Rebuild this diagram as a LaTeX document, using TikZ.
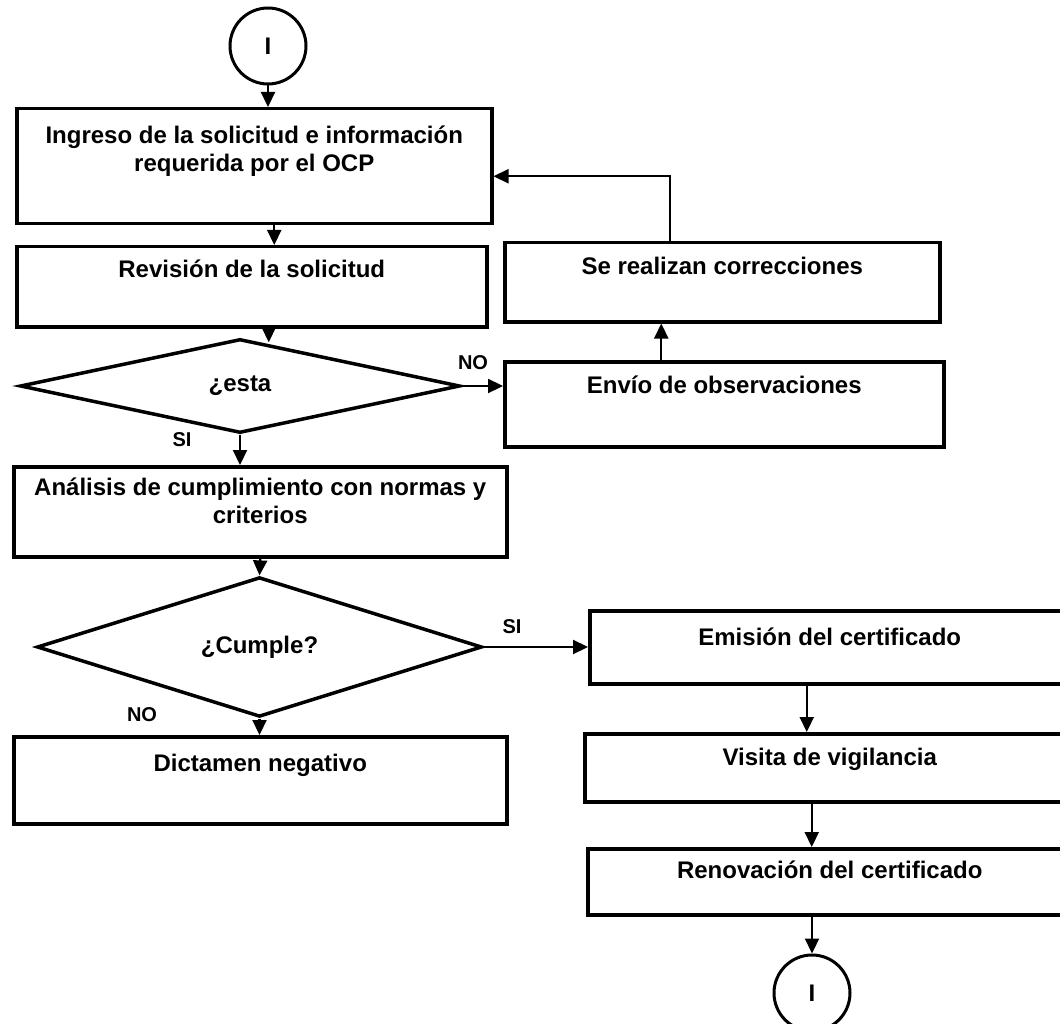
\documentclass[tikz,border=0pt]{standalone}
\usepackage{fontspec}
\setmainfont{Liberation Sans}
\usetikzlibrary{arrows.meta,positioning,calc,shapes.geometric}

\begin{document}
\begin{tikzpicture}[x=1pt,y=-1pt,
  caja/.style={draw,line width=3.5pt,anchor=north west,inner sep=0pt},
  texto/.style={anchor=base,align=center,font=\fontsize{24}{28}\selectfont\bfseries},
  rombo/.style={draw,diamond,line width=3.5pt,inner sep=0pt,font=\fontsize{24}{28}\selectfont\bfseries},
  conector/.style={draw,circle,line width=3pt,minimum size=76pt,inner sep=0pt,font=\fontsize{24}{28}\selectfont\bfseries},
  flecha/.style={line width=2.2pt,-{Triangle[length=15pt,width=14pt]}},
  etiqueta/.style={font=\fontsize{20}{24}\selectfont\bfseries}]
\useasboundingbox (0,0) rectangle (1060,1024);

% left column
\node[conector] (inicio) at (268,46) {I};
\node[caja,minimum width=475pt,minimum height=115pt,
  label={[texto,yshift=-65pt]north:{Ingreso de la solicitud e información\\requerida por el OCP}}] (ingreso) at (15,107) {};
\node[caja,minimum width=470pt,minimum height=80pt,
  label={[texto,yshift=-33pt]north:{Revisión de la solicitud}}] (revision) at (15,245) {};
\node[rombo,minimum width=440pt,minimum height=94pt] (esta) at (240,386) {¿esta};
\node[caja,minimum width=493pt,minimum height=90pt,
  label={[texto,yshift=-58pt]north:{Análisis de cumplimiento con normas y\\criterios}}] (analisis) at (12,465) {};
\node[rombo,minimum width=445pt,minimum height=132pt] (cumple) at (259.5,647) {¿Cumple?};
\node[caja,minimum width=493pt,minimum height=87pt,
  label={[texto,yshift=-36pt]north:{Dictamen negativo}}] (dictamen) at (12,735) {};

% right column
\node[caja,minimum width=435pt,minimum height=79pt,
  label={[texto,yshift=-34pt]north:{Se realizan correcciones}}] (correcciones) at (503,241) {};
\node[caja,minimum width=439pt,minimum height=85pt,
  label={[texto,yshift=-33pt]north:{Envío de observaciones}}] (envio) at (503,360) {};
\node[caja,minimum width=480pt,minimum height=73pt,
  label={[texto,yshift=-36pt]north:{Emisión del certificado}}] (emision) at (588,609) {};
\node[caja,minimum width=490pt,minimum height=68pt,
  label={[texto,yshift=-33pt]north:{Visita de vigilancia}}] (visita) at (583,732) {};
\node[caja,minimum width=484pt,minimum height=66pt,
  label={[texto,yshift=-31pt]north:{Renovación del certificado}}] (renovacion) at (586,847) {};
\node[conector] (fin) at (812,993) {I};

% labels
\node[etiqueta] (noA) at (473,363) {NO};
\node[etiqueta] (siA) at (182,440) {SI};
\node[etiqueta] (siB) at (512,627) {SI};
\node[etiqueta] (noB) at (142,715) {NO};

% arrows
\draw[flecha] (inicio.south) -- (inicio.south |- ingreso.north);
\draw[flecha] ([xshift=20pt]ingreso.south) -- ([xshift=20pt]ingreso.south |- revision.north);
\draw[flecha] ([xshift=17pt]revision.south) -- ([xshift=17pt,yshift=-5pt]revision.south |- esta.north);
\draw[flecha] (esta.east) -- (esta.east -| envio.west);
\draw[flecha] ([xshift=-63pt]envio.north) -- ([xshift=-63pt]envio.north |- correcciones.south);
\draw[flecha] ([xshift=-52pt]correcciones.north) |- ([yshift=-10pt]ingreso.east);
\draw[flecha] (esta.south) -- (esta.south |- analisis.north);
\draw[flecha] (analisis.south) -- (cumple.north);
\draw[flecha] (cumple.east) -- (cumple.east -| emision.west);
\draw[flecha] (cumple.south) -- (cumple.south |- dictamen.north);
\draw[flecha] ([xshift=-23pt]emision.south) -- ([xshift=-23pt]emision.south |- visita.north);
\draw[flecha] ([xshift=-18pt]visita.south) -- ([xshift=-18pt]visita.south |- renovacion.north);
\draw[flecha] (fin.north |- renovacion.south) -- (fin.north);
\end{tikzpicture}
\end{document}
